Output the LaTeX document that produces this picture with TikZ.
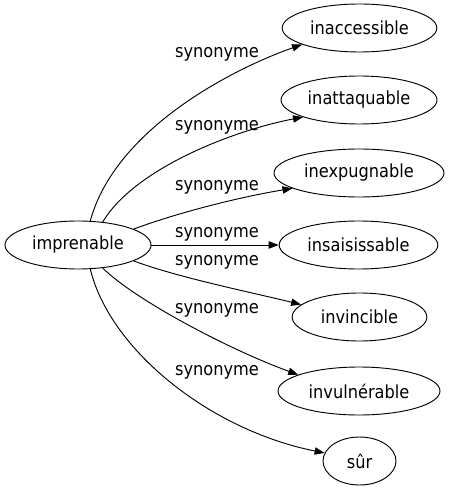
\documentclass[tikz,border=0pt]{standalone}
\usepackage{fontspec}
\setmainfont{DejaVuSansCondensed}[Extension=.ttf]
\usetikzlibrary{shapes.geometric,arrows.meta}

\begin{document}
\begin{tikzpicture}[x=0.75pt,y=-0.75pt, line width=0.7pt,
  word/.style={draw, ellipse, inner sep=0pt, minimum height=36pt, font=\fontsize{13.5}{16}\selectfont},
  rel/.style={font=\fontsize{13.5}{16}\selectfont, inner sep=0pt},
  syn/.style={-{Triangle[length=7.5pt,width=5.5pt]}, black}]
\useasboundingbox (0,0) rectangle (449,491);
\node[word, minimum width=109.5pt] (imp) at (78,245) {imprenable};
\node[word, minimum width=116pt]   (n1) at (359.5,28)  {inaccessible};
\node[word, minimum width=117pt]   (n2) at (359,100)   {inattaquable};
\node[word, minimum width=127.5pt] (n3) at (359,173)   {inexpugnable};
\node[word, minimum width=119pt]   (n4) at (358.5,245) {insaisissable};
\node[word, minimum width=101pt]   (n5) at (359.5,317) {invincible};
\node[word, minimum width=121.5pt] (n6) at (359,391)   {invulnérable};
\node[word, minimum width=54.75pt] (n7) at (359.5,461) {sûr};
\draw[syn] (imp.63)  .. controls (115,130) and (230,70)  .. (n1.196);
\draw[syn] (imp.43)  .. controls (135,168) and (235,130) .. (n2.197);
\draw[syn] (imp.16)  .. controls (180,212) and (240,197) .. (n3.193);
\draw[syn] (imp.east) -- (n4.west);
\draw[syn] (imp.-16) .. controls (180,278) and (250,292) .. (n5.168);
\draw[syn] (imp.-43) .. controls (135,300) and (230,350) .. (n6.165);
\draw[syn] (imp.-63) .. controls (110,350) and (210,430) .. (n7.167);
\node[rel] (l1) at (217,54)  {synonyme};
\node[rel] (l2) at (217,127) {synonyme};
\node[rel] (l3) at (217,187) {synonyme};
\node[rel] (l4) at (217,234) {synonyme};
\node[rel] (l5) at (217,262) {synonyme};
\node[rel] (l6) at (217,310) {synonyme};
\node[rel] (l7) at (217,372) {synonyme};
\end{tikzpicture}
\end{document}
